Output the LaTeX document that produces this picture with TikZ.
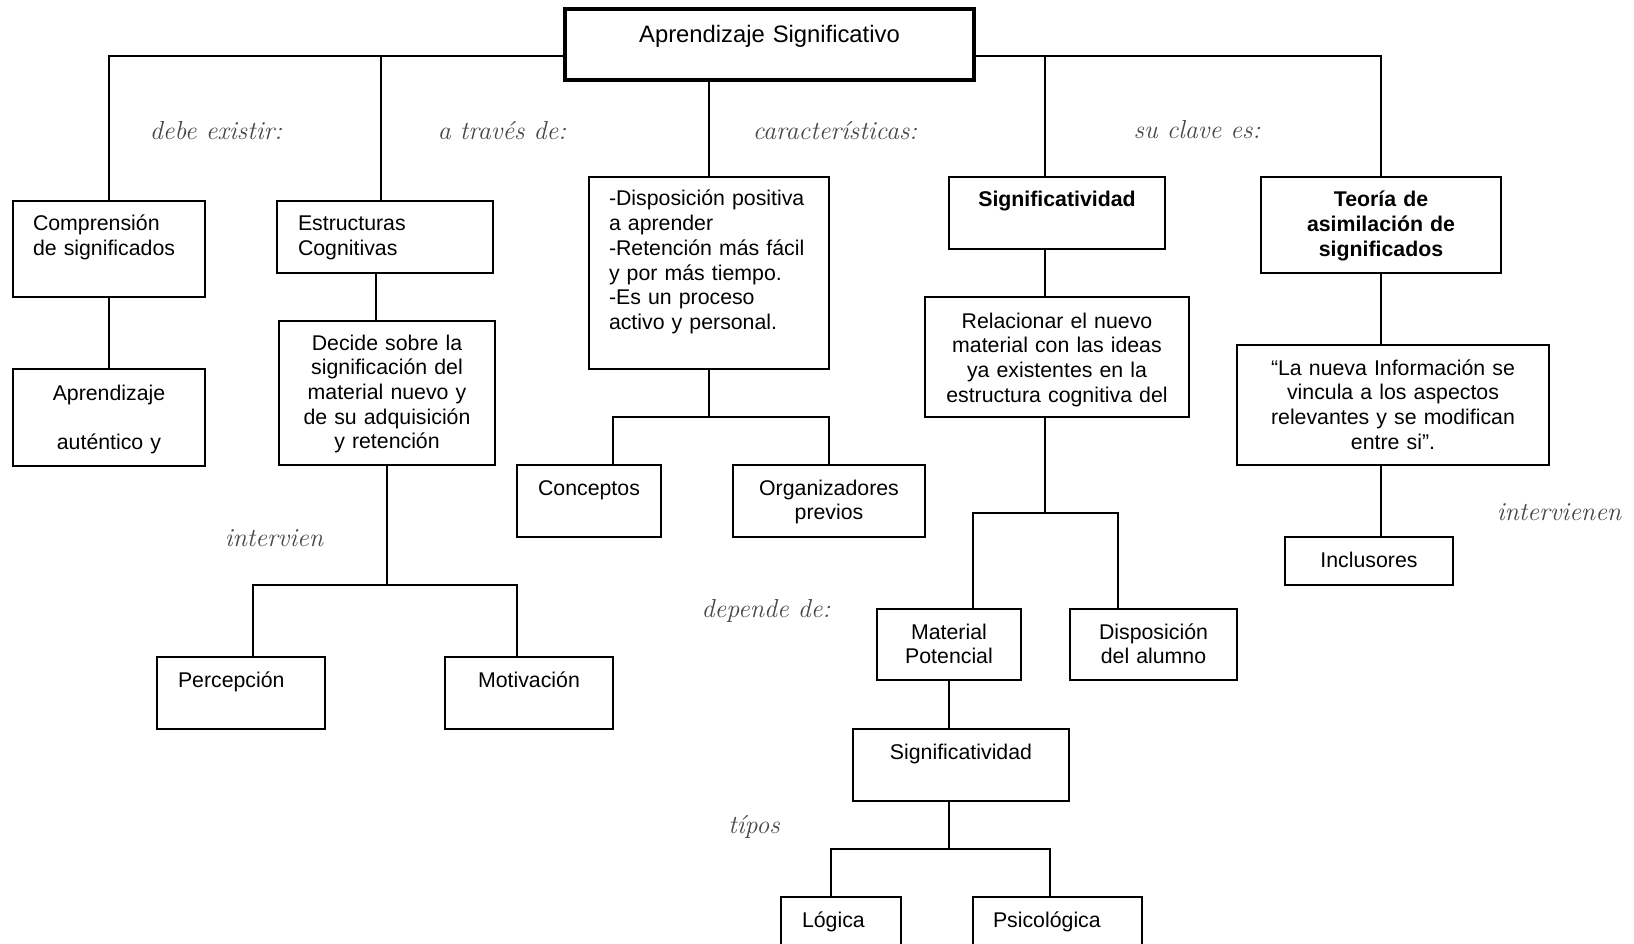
\documentclass[tikz,border=0pt]{standalone}
\usepackage{fontspec}
\newfontfamily\arialfont{Liberation Sans}
\usetikzlibrary{positioning,calc}
\definecolor{handgray}{rgb}{0.28,0.28,0.28}

\tikzset{
  box/.style={draw, line width=2pt, anchor=north west, inner xsep=0pt, inner ysep=0pt, outer sep=0pt,
    font=\arialfont\fontsize{21.3pt}{24.7pt}\selectfont, text height=30pt, align=center},
  lbox/.style={box, inner xsep=20pt, align=left},
  bold/.style={font=\arialfont\bfseries\fontsize{21.3pt}{24.7pt}\selectfont},
  link/.style={line width=2pt},
  hand/.style={font=\fontsize{26pt}{29pt}\selectfont\itshape, text=handgray, inner sep=0pt, anchor=base},
}

\begin{document}
\begin{tikzpicture}[x=1pt,y=-1pt]
  \useasboundingbox (0,0) rectangle (1634,944);
  \clip (0,0) rectangle (1634,944);

  % main concept
  \node[box, line width=4pt, text width=409pt, text height=34pt, text depth=37pt,
    font=\arialfont\fontsize{23.8pt}{27pt}\selectfont] (main) at (565,9) {Aprendizaje Significativo};

  % first row
  \node[lbox, text width=152pt, text depth=66pt] (comp) at (13,201) {Comprensión\\de significados};
  \node[lbox, inner xsep=21pt, text width=174pt, text depth=42pt] (estr) at (277,201) {Estructuras\\Cognitivas};
  \node[lbox, text width=200pt, text height=29pt, text depth=163pt] (list) at (589,177)
    {-Disposición positiva\\a aprender\\-Retención más fácil\\y por más tiempo.\\-Es un proceso\\activo y personal.};
  \node[box, bold, text width=216pt, text depth=42pt] (sig) at (949,177) {Significatividad};
  \node[box, bold, text width=240pt, text depth=66pt] (teo) at (1261,177) {Teoría de\\asimilación de\\significados};

  % second row
  \node[box, text width=192pt, text height=31pt, text depth=66pt] (autent) at (13,369) {Aprendizaje\\[24.7pt]auténtico y};
  \node[box, text width=216pt, text height=29pt, text depth=115pt] (decide) at (279,321)
    {Decide sobre la\\significación del\\material nuevo y\\de su adquisición\\y retención};
  \node[box, text width=264pt, text height=31pt, text depth=89pt] (rel) at (925,297)
    {Relacionar el nuevo\\material con las ideas\\ya existentes en la\\estructura cognitiva del};
  \node[box, text width=312pt, text depth=90pt] (quote) at (1237,345)
    {“La nueva Información se\\vincula a los aspectos\\relevantes y se modifican\\entre si”.};

  % lower rows
  \node[box, text width=144pt, text depth=42pt] (conc) at (517,465) {Conceptos};
  \node[box, text width=192pt, text depth=42pt] (org) at (733,465) {Organizadores\\previos};
  \node[box, text width=168pt, text depth=18pt] (incl) at (1285,537) {Inclusores};
  \node[box, text width=144pt, text depth=41pt] (mat) at (877,609) {Material\\Potencial};
  \node[box, text width=167pt, text depth=41pt] (disp) at (1070,609) {Disposición\\del alumno};
  \node[lbox, inner xsep=21pt, text width=126pt, text depth=42pt] (perc) at (157,657) {Percepción};
  \node[box, text width=168pt, text depth=42pt] (motiv) at (445,657) {Motivación};
  \node[box, text width=216pt, text depth=42pt] (sigb) at (853,729) {Significatividad};
  \node[lbox, inner xsep=21pt, text width=78pt, text depth=42pt] (log) at (781,897) {Lógica};
  \node[lbox, text width=129pt, text depth=42pt] (psic) at (973,897) {Psicológica};

  % connectors from the main box
  \coordinate (topl) at ([yshift=-12pt]main.west);
  \coordinate (topr) at ([yshift=-12pt]main.east);
  \draw[link] (comp.north) |- (topl);
  \draw[link] ([xshift=-4pt]estr.north) |- (topl);
  \draw[link] (list.north) -- (list.north |- main.south);
  \draw[link] ([xshift=-12pt]sig.north) |- (topr);
  \draw[link] (teo.north) |- (topr);

  % straight links
  \draw[link] (comp.south) -- (autent.north);
  \draw[link] ([xshift=-9.5pt]estr.south) -- ([xshift=-9.5pt]estr.south |- decide.north);
  \draw[link] ([xshift=-12pt]sig.south) -- ([xshift=-12pt]sig.south |- rel.north);
  \draw[link] (mat.south) -- (mat.south |- sigb.north);
  \draw[link] (teo.south) -- (teo.south |- quote.north);
  \draw[link] ([xshift=-12pt]quote.south) -- ([xshift=12pt]incl.north);

  % branching links
  \coordinate (j1) at ($(decide.south)+(0,120)$);
  \draw[link] (decide.south) -- (j1);
  \draw[link] ([xshift=12pt]perc.north) |- (j1);
  \draw[link] ([xshift=-12pt]motiv.north) |- (j1);

  \coordinate (j2) at ($(list.south)+(0,48)$);
  \draw[link] (list.south) -- (j2);
  \draw[link] ([xshift=24pt]conc.north) |- (j2);
  \draw[link] (org.north) |- (j2);

  \coordinate (j3) at ($([xshift=-12pt]rel.south)+(0,96)$);
  \draw[link] ([xshift=-12pt]rel.south) -- (j3);
  \draw[link] ([xshift=24pt]mat.north) |- (j3);
  \draw[link] ([xshift=-36pt]disp.north) |- (j3);

  \coordinate (j4) at ($([xshift=-12pt]sigb.south)+(0,48)$);
  \draw[link] ([xshift=-12pt]sigb.south) -- (j4);
  \draw[link] ([xshift=-10pt]log.north) |- (j4);
  \draw[link] ([xshift=-8pt]psic.north) |- (j4);

  % link words
  \node[hand] (lblA) at (216,140) {debe existir:};
  \node[hand] (lblB) at (502,140) {a través de:};
  \node[hand] (lblC) at (835,140) {características:};
  \node[hand] (lblD) at (1197,139) {su clave es:};
  \node[hand] (lblE) at (274,546) {intervien};
  \node[hand] (lblF) at (766,617) {depende de:};
  \node[hand] (lblG) at (1559,520) {intervienen};
  \node[hand] (lblH) at (754,833) {típos};
\end{tikzpicture}
\end{document}
